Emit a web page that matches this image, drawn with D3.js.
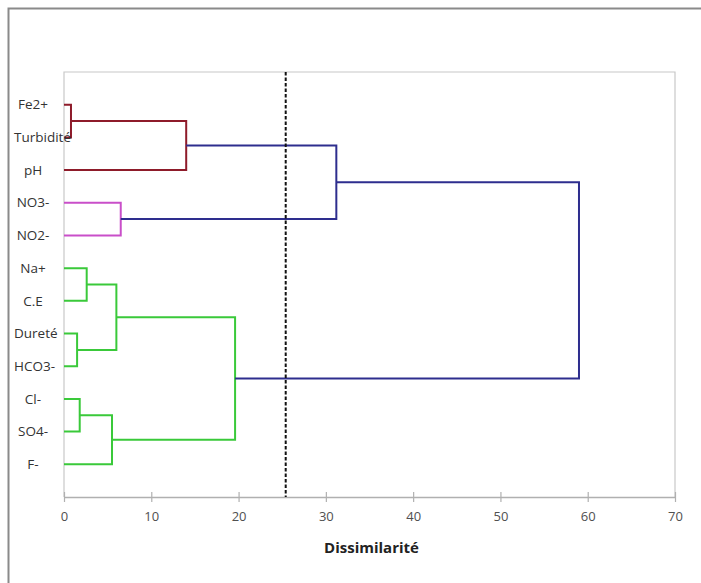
<!DOCTYPE html>
<html><head><meta charset="utf-8">
<script src="https://cdn.jsdelivr.net/npm/d3@7"></script>
<style>body{margin:0;background:#fff}svg{display:block}</style>
</head><body>
<svg id="c" width="701" height="583"></svg>
<script>
// leaves, top to bottom
const leaves = ["Fe2+","Turbidité","pH","NO3-","NO2-","Na+","C.E","Dureté","HCO3-","Cl-","SO4-","F-"];
// merges: [childA, childB, height, colour group]; children are leaf names or merge ids (m0..)
const mergeA = ["Fe2+","m0","NO3-","Na+","Dureté","m3","Cl-","m6","m5","m1","m9"];
const mergeB = ["Turbidité","pH","NO2-","C.E","HCO3-","m4","SO4-","F-","m7","m2","m8"];
const mergeH = [0.8, 14.0, 6.5, 2.6, 1.5, 6.0, 1.8, 5.5, 19.6, 31.2, 59.0];
const mergeG = ["red","red","pink","green","green","green","green","green","green","blue","blue"];
const xTicks = [0,10,20,30,40,50,60,70];
const cutoff = 25.4;
const colors = {red:"#8E1B2A", pink:"#C94FC9", green:"#3AC93A", blue:"#2E2E8E"};

const svg = d3.select("#c");
const L = 64, R = 675, T = 72, B = 497;
const x = d3.scaleLinear().domain([0,70]).range([L,R]);
const y = d3.scaleLinear().domain([0, leaves.length+1]).range([T,B]);

// outer frame (top and left)
svg.append("path").attr("d","M8.5,583 V8.5 H701").attr("fill","none").attr("stroke","#8a8a8a").attr("stroke-width",2);

// plot area border
svg.append("path").attr("d",`M${L},${B} V${T} H${R} V${B}`).attr("fill","none").attr("stroke","#c8c8c8").attr("stroke-width",1.2);

// x axis
const ax = svg.append("g").attr("transform",`translate(0,${B})`)
  .call(d3.axisBottom(x).tickValues(xTicks).tickSize(0).tickPadding(15).tickFormat(d3.format("d")));
ax.select(".domain").attr("stroke","#b0b0b0").attr("stroke-width",1.5);
ax.selectAll(".tick text").attr("font-family","Open Sans, sans-serif").attr("font-size",13).attr("fill","#505050");
ax.selectAll(".tick").append("line").attr("y1",-5).attr("y2",5).attr("stroke","#b0b0b0").attr("stroke-width",1.2);

svg.append("text").attr("x",(x(20)+x(50))/2+2).attr("y",553).attr("text-anchor","middle")
  .attr("font-family","Open Sans, sans-serif").attr("font-weight","bold").attr("font-size",15).attr("fill","#222")
  .text("Dissimilarité");

// compute node positions
const pos = {};
leaves.forEach((n,i)=>{ pos[n] = {h:0, y:i+1}; });
const g = svg.append("g").attr("fill","none").attr("stroke-width",2);
mergeA.forEach((a,i)=>{
  const b = mergeB[i], h = mergeH[i];
  const pa = pos[a], pb = pos[b];
  const yy = (pa.y+pb.y)/2;
  pos["m"+i] = {h:h, y:yy};
  const d = `M${x(pa.h)},${y(pa.y)} H${x(h)} V${y(pb.y)} H${x(pb.h)}`;
  g.append("path").attr("d",d).attr("stroke",colors[mergeG[i]]);
});

// leaf labels
const lab = svg.append("g").attr("font-family","Open Sans, sans-serif").attr("font-size",13.5).attr("fill","#333");
leaves.forEach((n,i)=>{
  const t = lab.append("text").attr("y",y(i+1)).attr("dy","0.35em").text(n);
  const w = t.node().getComputedTextLength();
  t.attr("x", Math.max(14, 33 - w/2));
});

// cutoff line
svg.append("line").attr("x1",x(cutoff)).attr("x2",x(cutoff)).attr("y1",T).attr("y2",B)
  .attr("stroke","#111").attr("stroke-width",2).attr("stroke-dasharray","3.5,2");
</script>
</body></html>
